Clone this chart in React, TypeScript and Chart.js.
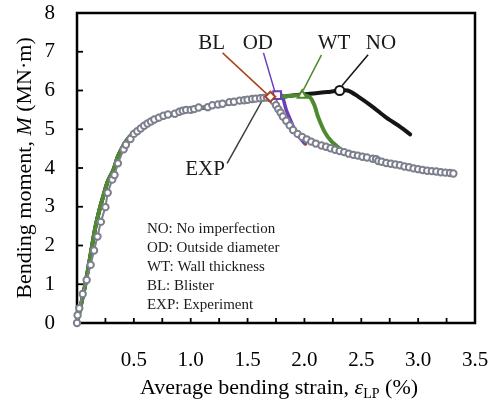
import React, { useEffect, useRef } from 'react';
import { Chart, registerables } from 'chart.js';

Chart.register(...registerables);

const FONT = '"Liberation Serif", "Times New Roman", serif';

// ---- Experiment (gray open circles) ----
const expStrain = [0, 0.005, 0.02, 0.05, 0.085, 0.12, 0.15, 0.18, 0.21, 0.25, 0.27, 0.31, 0.33, 0.36, 0.41, 0.43, 0.47, 0.5, 0.53, 0.56, 0.59, 0.62, 0.65, 0.68, 0.72, 0.76, 0.8, 0.86, 0.9, 0.93, 0.96, 1.0, 1.03, 1.07, 1.15, 1.19, 1.24, 1.28, 1.34, 1.38, 1.43, 1.47, 1.5, 1.54, 1.57, 1.61, 1.64, 1.67, 1.7, 1.73, 1.75, 1.77, 1.79, 1.81, 1.84, 1.87, 1.9, 1.94, 1.98, 2.02, 2.06, 2.1, 2.15, 2.19, 2.23, 2.27, 2.31, 2.35, 2.39, 2.43, 2.47, 2.51, 2.55, 2.6, 2.63, 2.65, 2.68, 2.72, 2.76, 2.8, 2.84, 2.88, 2.92, 2.96, 3.0, 3.04, 3.08, 3.12, 3.16, 3.2, 3.24, 3.28, 3.31];
const expMoment = [0, 0.2, 0.38, 0.75, 1.11, 1.5, 1.87, 2.23, 2.61, 2.99, 3.36, 3.7, 3.82, 4.12, 4.48, 4.6, 4.75, 4.88, 4.95, 5.02, 5.09, 5.15, 5.2, 5.25, 5.3, 5.35, 5.38, 5.4, 5.45, 5.48, 5.5, 5.5, 5.52, 5.56, 5.57, 5.62, 5.64, 5.66, 5.7, 5.71, 5.74, 5.75, 5.76, 5.78, 5.79, 5.8, 5.81, 5.82, 5.8, 5.72, 5.62, 5.52, 5.43, 5.33, 5.22, 5.1, 4.98, 4.88, 4.8, 4.74, 4.68, 4.63, 4.58, 4.55, 4.51, 4.47, 4.44, 4.41, 4.37, 4.34, 4.32, 4.29, 4.27, 4.24, 4.23, 4.18, 4.16, 4.13, 4.11, 4.09, 4.07, 4.04, 4.02, 3.99, 3.97, 3.95, 3.93, 3.92, 3.91, 3.89, 3.88, 3.87, 3.86];

// ---- Common pre-peak path of the FE simulations ----
const riseStrain = [0, 0.03, 0.07, 0.11, 0.16, 0.2, 0.23, 0.27, 0.32, 0.36, 0.41, 0.46, 0.5, 0.6, 0.7, 0.8, 0.9, 1.0, 1.2, 1.4, 1.6];
const riseMoment = [0, 0.4, 0.95, 1.6, 2.45, 2.95, 3.26, 3.65, 3.95, 4.3, 4.59, 4.8, 4.9, 5.08, 5.24, 5.36, 5.44, 5.5, 5.6, 5.7, 5.78];

// ---- Post-peak paths ----
const noStrain = [1.8, 1.98, 2.1, 2.2, 2.31, 2.38, 2.47, 2.6, 2.72, 2.84, 2.93];
const noMoment = [5.84, 5.9, 5.93, 5.96, 6.0, 6.0, 5.85, 5.58, 5.3, 5.07, 4.87];
const noPeakIndex = 4;

const wtStrain = [1.8, 1.98, 2.05, 2.09, 2.12, 2.18, 2.24, 2.32];
const wtMoment = [5.84, 5.88, 5.82, 5.6, 5.32, 4.92, 4.68, 4.48];
const wtPeakIndex = 1;

const odStrain = [1.7, 1.76, 1.8, 1.84, 1.89, 1.93, 2.0];
const odMoment = [5.82, 5.88, 5.88, 5.5, 5.15, 4.9, 4.64];
const odPeakIndex = 1;

const blStrain = [1.7, 1.77, 1.84, 1.92, 1.98, 2.01];
const blMoment = [5.84, 5.58, 5.24, 4.94, 4.72, 4.62];
const blPeakIndex = 0;

// ---- Axis ticks ----
const xTickLabels = ['', '0.5', '1.0', '1.5', '2.0', '2.5', '3.0', '3.5'];
const yTickLabels = ['0', '1', '2', '3', '4', '5', '6', '7', '8'];
const xTickMarks = [0.25, 0.5, 0.75, 1.0, 1.25, 1.5, 1.75, 2.0, 2.25, 2.5, 2.75, 3.0, 3.25];
const yTickMarks = [1, 2, 3, 4, 5, 6, 7];

// ---- Call-out labels (text, label anchor, leader start, leader end) ----
const calloutText = ['BL', 'OD', 'WT', 'NO', 'EXP'];
const calloutLabelX = [1.185, 1.59, 2.26, 2.673, 1.126];
const calloutLabelY = [7.22, 7.22, 7.22, 7.22, 3.95];
const leaderFromX = [1.28, 1.64, 2.15, 2.56, 1.32];
const leaderFromY = [6.97, 6.97, 6.92, 6.92, 4.12];
const leaderToX = [1.68, 1.74, 1.99, 2.33, 1.64];
const leaderToY = [5.88, 5.97, 6.01, 6.12, 5.8];

const noteLines = ['NO: No imperfection', 'OD: Outside diameter', 'WT: Wall thickness', 'BL: Blister', 'EXP: Experiment'];

const COLORS = {
  exp: '#7c7f8c',
  no: '#151515',
  wt: '#4e8a2f',
  od: '#6a3fb8',
  bl: '#a8431f',
};
const leaderColors = [COLORS.bl, COLORS.od, COLORS.wt, COLORS.no, '#3a3a3a'];

const pts = (xs: number[], ys: number[]) => xs.map((x, i) => ({ x, y: ys[i] }));
const withRise = (xs: number[], ys: number[]) =>
  pts(riseStrain, riseMoment).filter((p) => p.x < xs[0]).concat(pts(xs, ys));

const overlay = {
  id: 'overlay',
  beforeDatasetsDraw(chart: any) {
    const { ctx, chartArea: a, scales } = chart;
    const x = scales.x;
    const y = scales.y;
    ctx.save();
    ctx.strokeStyle = '#000';
    ctx.lineWidth = 1.8;
    for (const v of xTickMarks) {
      const px = x.getPixelForValue(v);
      ctx.beginPath();
      ctx.moveTo(px, a.bottom);
      ctx.lineTo(px, a.bottom - 5);
      ctx.stroke();
    }
    for (const v of yTickMarks) {
      const py = y.getPixelForValue(v);
      ctx.beginPath();
      ctx.moveTo(a.left, py);
      ctx.lineTo(a.left + 6, py);
      ctx.stroke();
    }
    ctx.lineWidth = 2.5;
    ctx.strokeRect(a.left, a.top, a.right - a.left, a.bottom - a.top);
    ctx.restore();
  },
  afterDraw(chart: any) {
    const { ctx, chartArea: a, scales } = chart;
    const x = scales.x;
    const y = scales.y;
    ctx.save();
    ctx.fillStyle = '#1a1a1a';
    // call-out labels
    ctx.font = `21px ${FONT}`;
    ctx.textAlign = 'center';
    ctx.textBaseline = 'middle';
    calloutText.forEach((t, i) => {
      ctx.fillText(t, x.getPixelForValue(calloutLabelX[i]), y.getPixelForValue(calloutLabelY[i]));
    });
    // notes
    ctx.font = `15px ${FONT}`;
    ctx.textAlign = 'left';
    noteLines.forEach((t, i) => {
      ctx.fillText(t, x.getPixelForValue(0.615), y.getPixelForValue(2.43 - i * 0.49));
    });
    // x title
    ctx.fillStyle = '#000';
    ctx.textBaseline = 'alphabetic';
    const segX: [string, string, number][] = [
      ['Average bending strain, ', `22px ${FONT}`, 0],
      ['ε', `italic 22px ${FONT}`, 0],
      ['LP', `14px ${FONT}`, 4],
      [' (%)', `22px ${FONT}`, 0],
    ];
    let total = 0;
    for (const s of segX) { ctx.font = s[1]; total += ctx.measureText(s[0]).width; }
    let cx = (a.left + a.right) / 2 - total / 2 + 3;
    for (const s of segX) {
      ctx.font = s[1];
      ctx.fillText(s[0], cx, 394 + s[2]);
      cx += ctx.measureText(s[0]).width;
    }
    // y title
    const segY: [string, string][] = [
      ['Bending moment, ', `22px ${FONT}`],
      ['M', `italic 22px ${FONT}`],
      [' (MN·m)', `22px ${FONT}`],
    ];
    total = 0;
    for (const s of segY) { ctx.font = s[1]; total += ctx.measureText(s[0]).width; }
    ctx.translate(31, (a.top + a.bottom) / 2);
    ctx.rotate(-Math.PI / 2);
    let cy = -total / 2;
    for (const s of segY) {
      ctx.font = s[1];
      ctx.fillText(s[0], cy, 0);
      cy += ctx.measureText(s[0]).width;
    }
    ctx.restore();
  },
};

export default function App() {
  const ref = useRef<HTMLCanvasElement>(null);
  useEffect(() => {
    if (!ref.current) return;
    const leaderSets = calloutText.map((t, i) => ({
      label: 'leader-' + t,
      data: [
        { x: leaderFromX[i], y: leaderFromY[i] },
        { x: leaderToX[i], y: leaderToY[i] },
      ],
      showLine: true,
      borderColor: leaderColors[i],
      borderWidth: 1.5,
      pointRadius: 0,
    }));
    const marker = (xs: number[], ys: number[], idx: number, color: string, style: string, r: number) => ({
      label: 'marker',
      data: [{ x: xs[idx], y: ys[idx] }],
      showLine: false,
      pointStyle: style,
      pointRadius: r,
      pointBorderWidth: 2,
      pointBorderColor: color,
      pointBackgroundColor: '#fff',
    });
    const line = (label: string, data: any[], color: string, w: number) => ({
      label,
      data,
      showLine: true,
      borderColor: color,
      borderWidth: w,
      pointRadius: 0,
      tension: 0.3,
      borderCapStyle: 'round',
      borderJoinStyle: 'round',
    });
    const chart = new Chart(ref.current, {
      type: 'scatter',
      data: {
        datasets: [
          marker(blStrain, blMoment, blPeakIndex, COLORS.bl, 'rectRot', 5),
          marker(odStrain, odMoment, odPeakIndex, COLORS.od, 'rect', 5.5),
          marker(wtStrain, wtMoment, wtPeakIndex, COLORS.wt, 'triangle', 5),
          marker(noStrain, noMoment, noPeakIndex, COLORS.no, 'circle', 4.5),
          {
            label: 'EXP',
            data: pts(expStrain, expMoment),
            showLine: true,
            borderColor: COLORS.exp,
            borderWidth: 2,
            pointRadius: 3.2,
            pointBorderWidth: 2,
            pointBorderColor: COLORS.exp,
            pointBackgroundColor: '#fff',
          },
          line('WT', withRise(wtStrain, wtMoment), COLORS.wt, 4),
          line('OD', withRise(odStrain, odMoment), COLORS.od, 3.5),
          line('BL', withRise(blStrain, blMoment), COLORS.bl, 3.5),
          line('NO', withRise(noStrain, noMoment), COLORS.no, 4),
          ...leaderSets,
        ] as any,
      },
      options: {
        animation: false,
        responsive: false,
        clip: false as any,
        layout: { padding: { top: 13, right: 19, left: 0, bottom: 0 } },
        plugins: { legend: { display: false }, tooltip: { enabled: false } },
        scales: {
          x: {
            type: 'linear',
            min: 0,
            max: 3.5,
            grid: { display: false },
            border: { display: false },
            afterFit: (s: any) => { s.height = 80; s.paddingLeft = 0; s.paddingRight = 0; },
            ticks: {
              stepSize: 0.5,
              autoSkip: false,
              maxRotation: 0,
              padding: 17,
              color: '#000',
              font: { family: FONT, size: 21 },
              callback: (_v: any, i: number) => xTickLabels[i] ?? '',
            },
          },
          y: {
            type: 'linear',
            min: 0,
            max: 8,
            grid: { display: false },
            border: { display: false },
            afterFit: (s: any) => { s.width = 77; s.paddingTop = 0; s.paddingBottom = 0; },
            ticks: {
              stepSize: 1,
              padding: 14,
              color: '#000',
              font: { family: FONT, size: 21 },
              callback: (_v: any, i: number) => yTickLabels[i] ?? '',
            },
          },
        },
      } as any,
      plugins: [overlay],
    });
    return () => chart.destroy();
  }, []);
  return (
    <div style={{ position: 'fixed', left: 0, top: 0, width: 494, height: 403, background: '#fff' }}>
      <canvas ref={ref} width={494} height={403} style={{ width: 494, height: 403 }} />
    </div>
  );
}
